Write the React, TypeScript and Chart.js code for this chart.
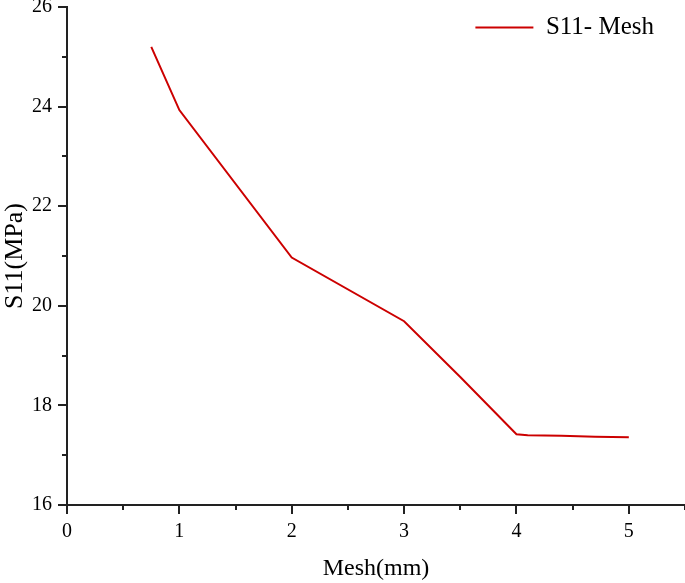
import React, { useEffect, useRef } from "react";
import { Chart, registerables } from "chart.js";

Chart.register(...registerables);

const meshSizes = [0.75, 1, 2, 3, 3.5, 4, 4.1, 4.4, 4.7, 5];
const s11Values = [25.2, 23.93, 20.97, 19.69, 18.57, 17.42, 17.4, 17.39, 17.37, 17.36];
const xMajorTicks = [0, 1, 2, 3, 4, 5];
const xMinorTicks = [0.5, 1.5, 2.5, 3.5, 4.5, 5.5];
const yMajorTicks = [16, 18, 20, 22, 24, 26];
const yMinorTicks = [17, 19, 21, 23, 25];
const seriesLabel = "S11- Mesh";

const FONT = "'Liberation Serif', 'Times New Roman', serif";
const AXIS = "#222";
const RED = "#cc0000";

const minorTicks = {
  id: "minorTicks",
  afterDraw(chart: any) {
    const { ctx, chartArea, scales } = chart;
    ctx.save();
    ctx.strokeStyle = AXIS;
    ctx.lineWidth = 2;
    ctx.beginPath();
    xMinorTicks.forEach((v) => {
      const px = Math.round(scales.x.getPixelForValue(v));
      ctx.moveTo(px, chartArea.bottom);
      ctx.lineTo(px, chartArea.bottom + 5);
    });
    yMinorTicks.forEach((v) => {
      const py = Math.round(scales.y.getPixelForValue(v));
      ctx.moveTo(chartArea.left, py);
      ctx.lineTo(chartArea.left - 5, py);
    });
    ctx.stroke();
    ctx.restore();
  },
};

const legendPlace = {
  id: "legendPlace",
  afterLayout(chart: any) {
    const lg = chart.legend;
    if (lg) {
      lg.right = chart.width - 21;
      lg.width = lg.right - lg.left;
      lg.top = 5;
      lg.bottom = 60;
      lg.height = lg.bottom - lg.top;
      if (lg.adjustHitBoxes) lg.adjustHitBoxes();
    }
  },
};

export default function App() {
  const ref = useRef<HTMLCanvasElement>(null);
  useEffect(() => {
    document.body.style.margin = "0";
    const chart = new Chart(ref.current as HTMLCanvasElement, {
      type: "line",
      data: {
        datasets: [
          {
            label: seriesLabel,
            data: meshSizes.map((x, i) => ({ x, y: s11Values[i] })),
            borderColor: RED,
            backgroundColor: RED,
            borderWidth: 2,
            pointRadius: 0,
            tension: 0,
          },
        ],
      },
      options: {
        responsive: false,
        animation: false,
        layout: { padding: { top: 7, left: 0, right: 0, bottom: 0 } },
        plugins: {
          tooltip: { enabled: false },
          legend: {
            position: "top",
            align: "end",
            maxHeight: 0.01,
            labels: {
              font: { family: FONT, size: 25 },
              color: "#000",
              boxWidth: 58,
              boxHeight: 2,
              padding: 10,
              generateLabels: (c: any) =>
                Chart.defaults.plugins.legend.labels
                  .generateLabels(c)
                  .map((l: any) => ({ ...l, lineWidth: 0, fillStyle: RED })),
            },
          },
        },
        scales: {
          x: {
            type: "linear",
            min: 0,
            max: 5.5,
            afterBuildTicks: (s: any) => {
              s.ticks = xMajorTicks.map((v) => ({ value: v }));
            },
            afterFit: (s: any) => {
              s.height = 78;
              s.paddingLeft = 0;
              s.paddingRight = 0;
            },
            border: { display: true, color: AXIS, width: 2 },
            grid: {
              drawOnChartArea: false,
              drawTicks: true,
              tickLength: 9,
              color: AXIS,
              lineWidth: 2,
            },
            ticks: {
              color: "#000",
              padding: 6,
              font: { family: FONT, size: 20 },
              callback: (v: any) => String(v),
            },
            title: {
              display: true,
              text: "Mesh(mm)",
              color: "#000",
              font: { family: FONT, size: 24 },
              padding: { top: 0, bottom: 0 },
            },
          },
          y: {
            type: "linear",
            min: 16,
            max: 26,
            afterBuildTicks: (s: any) => {
              s.ticks = yMajorTicks.map((v) => ({ value: v }));
            },
            afterFit: (s: any) => {
              s.width = 67;
              s.paddingTop = 0;
              s.paddingBottom = 0;
            },
            border: { display: true, color: AXIS, width: 2 },
            grid: {
              drawOnChartArea: false,
              drawTicks: true,
              tickLength: 9,
              color: AXIS,
              lineWidth: 2,
            },
            ticks: {
              color: "#000",
              padding: 6,
              font: { family: FONT, size: 20 },
              callback: (v: any) => String(v),
            },
            title: {
              display: true,
              text: "S11(MPa)",
              color: "#000",
              font: { family: FONT, size: 26 },
              padding: { top: 0, bottom: 0 },
            },
          },
        },
      },
      plugins: [minorTicks, legendPlace],
    } as any);
    return () => chart.destroy();
  }, []);
  return (
    <div style={{ width: 685, height: 583 }}>
      <canvas ref={ref} width={685} height={583} />
    </div>
  );
}
